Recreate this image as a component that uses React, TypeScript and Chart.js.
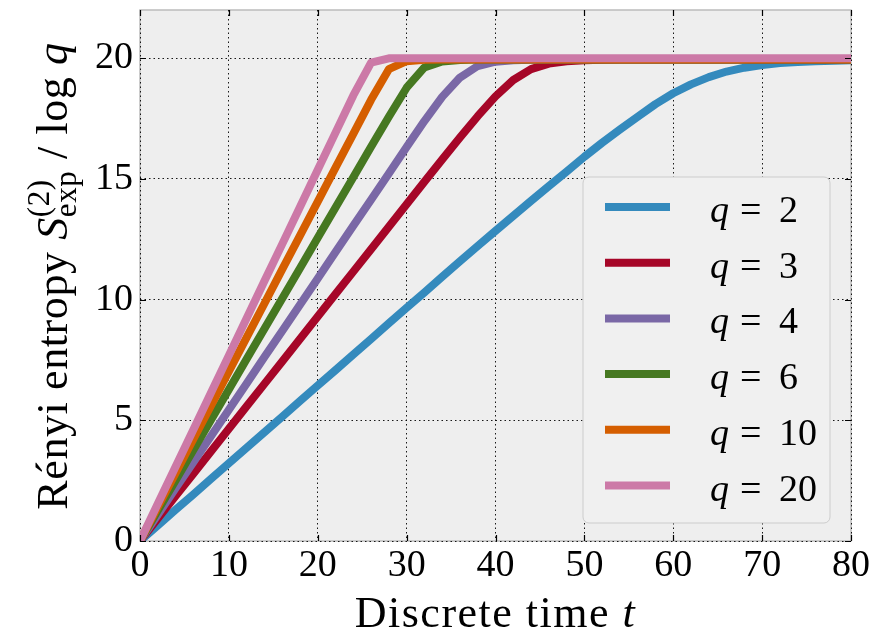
import React, { useEffect, useRef } from 'react';
import { Chart, registerables } from 'chart.js';

Chart.register(...registerables);

// ---------- data ----------
const times = [0, 2, 4, 6, 8, 10, 12, 14, 16, 18, 20, 22, 24, 26, 28, 30, 32, 34, 36, 38, 40, 42, 44, 46, 48, 50, 52, 54, 56, 58, 60, 62, 64, 66, 68, 70, 72, 74, 76, 78, 80];

const qValues = [2, 3, 4, 6, 10, 20];

const entropyQ2 = [0, 0.64, 1.29, 1.93, 2.58, 3.22, 3.86, 4.51, 5.15, 5.8, 6.44, 7.08, 7.73, 8.37, 9.02, 9.66, 10.3, 10.95, 11.59, 12.22, 12.85, 13.47, 14.09, 14.7, 15.3, 15.92, 16.5, 17.05, 17.58, 18.1, 18.55, 18.92, 19.22, 19.45, 19.61, 19.72, 19.8, 19.85, 19.88, 19.9, 19.92];
const entropyQ3 = [0, 0.93, 1.86, 2.79, 3.72, 4.65, 5.58, 6.51, 7.44, 8.37, 9.3, 10.23, 11.16, 12.09, 13.02, 13.95, 14.88, 15.81, 16.72, 17.6, 18.42, 19.1, 19.55, 19.78, 19.88, 19.92, 19.94, 19.95, 19.95, 19.95, 19.95, 19.95, 19.95, 19.95, 19.95, 19.95, 19.95, 19.95, 19.95, 19.95, 19.95];
const entropyQ4 = [0, 1.09, 2.18, 3.26, 4.35, 5.44, 6.53, 7.62, 8.7, 9.79, 10.88, 11.97, 13.06, 14.14, 15.23, 16.32, 17.4, 18.4, 19.2, 19.68, 19.86, 19.92, 19.94, 19.95, 19.95, 19.95, 19.95, 19.95, 19.95, 19.95, 19.95, 19.95, 19.95, 19.95, 19.95, 19.95, 19.95, 19.95, 19.95, 19.95, 19.95];
const entropyQ6 = [0, 1.26, 2.51, 3.77, 5.02, 6.28, 7.54, 8.79, 10.05, 11.3, 12.56, 13.82, 15.07, 16.33, 17.58, 18.78, 19.62, 19.87, 19.93, 19.95, 19.95, 19.95, 19.95, 19.95, 19.95, 19.95, 19.95, 19.95, 19.95, 19.95, 19.95, 19.95, 19.95, 19.95, 19.95, 19.95, 19.95, 19.95, 19.95, 19.95, 19.95];
const entropyQ10 = [0, 1.41, 2.81, 4.22, 5.62, 7.03, 8.44, 9.84, 11.25, 12.65, 14.06, 15.47, 16.87, 18.28, 19.55, 19.88, 19.94, 19.95, 19.95, 19.95, 19.95, 19.95, 19.95, 19.95, 19.95, 19.95, 19.95, 19.95, 19.95, 19.95, 19.95, 19.95, 19.95, 19.95, 19.95, 19.95, 19.95, 19.95, 19.95, 19.95, 19.95];
const entropyQ20 = [0, 1.54, 3.08, 4.61, 6.15, 7.69, 9.23, 10.77, 12.3, 13.84, 15.38, 16.92, 18.46, 19.82, 20, 20, 20, 20, 20, 20, 20, 20, 20, 20, 20, 20, 20, 20, 20, 20, 20, 20, 20, 20, 20, 20, 20, 20, 20, 20, 20];

const seriesValues = [entropyQ2, entropyQ3, entropyQ4, entropyQ6, entropyQ10, entropyQ20];
const seriesLabels = qValues.map((q) => `q = ${q}`);
const seriesColors = ['#348ABD', '#A60628', '#7A68A6', '#467821', '#D55E00', '#CC79A7'];

const xTicks = [0, 10, 20, 30, 40, 50, 60, 70, 80];
const yTicks = [0, 5, 10, 15, 20];

const SERIF = "'Liberation Serif', 'DejaVu Serif', serif";

// ---------- rich text helpers ----------
type Seg =
  | { t: string; f: string; dy?: number }
  | { sup: string; sub: string; f: string; supDy: number; subDy: number };

function segWidth(ctx: CanvasRenderingContext2D, s: Seg): number {
  ctx.font = s.f;
  if ('sup' in s) return Math.max(ctx.measureText(s.sup).width, ctx.measureText(s.sub).width);
  return ctx.measureText(s.t).width;
}

function drawSegs(ctx: CanvasRenderingContext2D, segs: Seg[], cx: number, baseline: number, spacing: number) {
  (ctx as any).letterSpacing = `${spacing}px`;
  const widths = segs.map((s) => segWidth(ctx, s));
  const total = widths.reduce((a, b) => a + b, 0);
  let x = cx - total / 2;
  ctx.textAlign = 'left';
  ctx.textBaseline = 'alphabetic';
  ctx.fillStyle = '#000';
  segs.forEach((s, i) => {
    ctx.font = s.f;
    if ('sup' in s) {
      ctx.fillText(s.sup, x, baseline + s.supDy);
      ctx.fillText(s.sub, x, baseline + s.subDy);
    } else {
      ctx.fillText(s.t, x, baseline + (s.dy || 0));
    }
    x += widths[i];
  });
  (ctx as any).letterSpacing = '0px';
}

const titleFont = `44px ${SERIF}`;
const titleItalic = `italic 44px ${SERIF}`;
const scriptFont = `31px ${SERIF}`;

const xTitleSegs: Seg[] = [
  { t: 'Discrete time ', f: titleFont },
  { t: 't', f: titleItalic },
];

const yTitleSegs: Seg[] = [
  { t: 'Rényi entropy ', f: titleFont },
  { t: 'S', f: titleItalic },
  { sup: '(2)', sub: 'exp', f: scriptFont, supDy: -18, subDy: 9 },
  { t: ' / log ', f: titleFont },
  { t: 'q', f: titleItalic },
];

// ---------- plugins ----------
const backgroundPlugin = {
  id: 'bmhBackground',
  beforeDraw(chart: any) {
    const { ctx, chartArea: a } = chart;
    ctx.save();
    ctx.fillStyle = '#eeeeee';
    ctx.fillRect(a.left, a.top, a.right - a.left, a.bottom - a.top);
    ctx.strokeStyle = '#bcbcbc';
    ctx.lineWidth = 1.5;
    ctx.strokeRect(a.left, a.top, a.right - a.left, a.bottom - a.top);
    ctx.restore();
  },
};

const decorPlugin = {
  id: 'decor',
  afterDraw(chart: any) {
    const { ctx, chartArea: a, scales } = chart;
    const xs = scales.x;
    const ys = scales.y;
    ctx.save();
    // inward tick marks
    ctx.strokeStyle = '#000';
    ctx.lineWidth = 1.2;
    const tl = 6;
    ctx.beginPath();
    xTicks.forEach((v) => {
      const px = Math.round(xs.getPixelForValue(v)) + 0.5;
      ctx.moveTo(px, a.bottom);
      ctx.lineTo(px, a.bottom - tl);
      ctx.moveTo(px, a.top);
      ctx.lineTo(px, a.top + tl);
    });
    yTicks.forEach((v) => {
      const py = Math.round(ys.getPixelForValue(v)) + 0.5;
      ctx.moveTo(a.left, py);
      ctx.lineTo(a.left + tl, py);
      ctx.moveTo(a.right, py);
      ctx.lineTo(a.right - tl, py);
    });
    ctx.stroke();

    // axis titles
    drawSegs(ctx, xTitleSegs, (a.left + a.right) / 2, 627, 1.5);
    ctx.save();
    ctx.translate(67, 276);
    ctx.rotate(-Math.PI / 2);
    drawSegs(ctx, yTitleSegs, 0, 0, 0.6);
    ctx.restore();

    // legend
    const bx = 583, by = 177, bw = 247, bh = 346;
    ctx.beginPath();
    ctx.roundRect(bx, by, bw, bh, 6);
    ctx.fillStyle = '#f0f0f0';
    ctx.fill();
    ctx.strokeStyle = '#cccccc';
    ctx.lineWidth = 1;
    ctx.stroke();
    const ds = chart.data.datasets;
    ds.forEach((d: any, i: number) => {
      const cy = by + 30 + i * 55.7;
      ctx.strokeStyle = d.borderColor;
      ctx.lineWidth = 8;
      ctx.lineCap = 'butt';
      ctx.beginPath();
      ctx.moveTo(605, cy);
      ctx.lineTo(670, cy);
      ctx.stroke();
      const [qs, rest] = String(d.label).split(' = ');
      ctx.fillStyle = '#000';
      ctx.textAlign = 'left';
      ctx.textBaseline = 'alphabetic';
      ctx.font = `italic 38px ${SERIF}`;
      ctx.fillText(qs, 710, cy + 15);
      ctx.font = `38px ${SERIF}`;
      ctx.fillText('=', 740, cy + 15);
      ctx.fillText(rest, 779, cy + 15);
    });
    ctx.restore();
  },
};

export default function App() {
  const canvasRef = useRef<HTMLCanvasElement | null>(null);

  useEffect(() => {
    document.body.style.margin = '0';
    const canvas = canvasRef.current;
    if (!canvas) return;
    const tickFont = { family: SERIF, size: 38 };
    const chart = new Chart(canvas, {
      type: 'line',
      data: {
        datasets: seriesValues.map((vals, i) => ({
          label: seriesLabels[i],
          data: times.map((t, j) => ({ x: t, y: vals[j] })),
          borderColor: seriesColors[i],
          backgroundColor: seriesColors[i],
          borderWidth: 8,
          pointRadius: 0,
          pointHoverRadius: 0,
          tension: 0,
          fill: false,
          borderJoinStyle: 'round',
          borderCapStyle: 'butt',
          order: -i,
          clip: 0,
        })),
      },
      options: {
        responsive: false,
        animation: false,
        devicePixelRatio: 1,
        events: [],
        layout: { padding: { left: 0, top: 10, right: 37, bottom: 0 } },
        plugins: { legend: { display: false }, tooltip: { enabled: false } },
        scales: {
          x: {
            type: 'linear',
            min: 0,
            max: 80,
            z: 1,
            afterFit: (s: any) => {
              s.height = 93;
              s.paddingLeft = 0;
              s.paddingRight = 0;
            },
            afterBuildTicks: (s: any) => { s.ticks = xTicks.map((v) => ({ value: v })); },
            grid: { color: 'rgba(0,0,0,0.9)', lineWidth: 1, drawTicks: false },
            border: { display: false, dash: [1.5, 3] },
            ticks: { font: tickFont, color: '#000', padding: 2, maxRotation: 0, autoSkip: false },
          },
          y: {
            type: 'linear',
            min: 0,
            max: 22,
            z: 1,
            afterFit: (s: any) => {
              s.width = 140;
              s.paddingTop = 0;
              s.paddingBottom = 0;
            },
            afterBuildTicks: (s: any) => { s.ticks = yTicks.map((v) => ({ value: v })); },
            grid: { color: 'rgba(0,0,0,0.9)', lineWidth: 1, drawTicks: false },
            border: { display: false, dash: [1.5, 3] },
            ticks: { font: tickFont, color: '#000', padding: 7, autoSkip: false },
          },
        },
      },
      plugins: [backgroundPlugin, decorPlugin],
    } as any);
    return () => chart.destroy();
  }, []);

  return (
    <div style={{ width: 888, height: 634, background: '#fff' }}>
      <canvas ref={canvasRef} width={888} height={634} style={{ display: 'block' }} />
    </div>
  );
}
